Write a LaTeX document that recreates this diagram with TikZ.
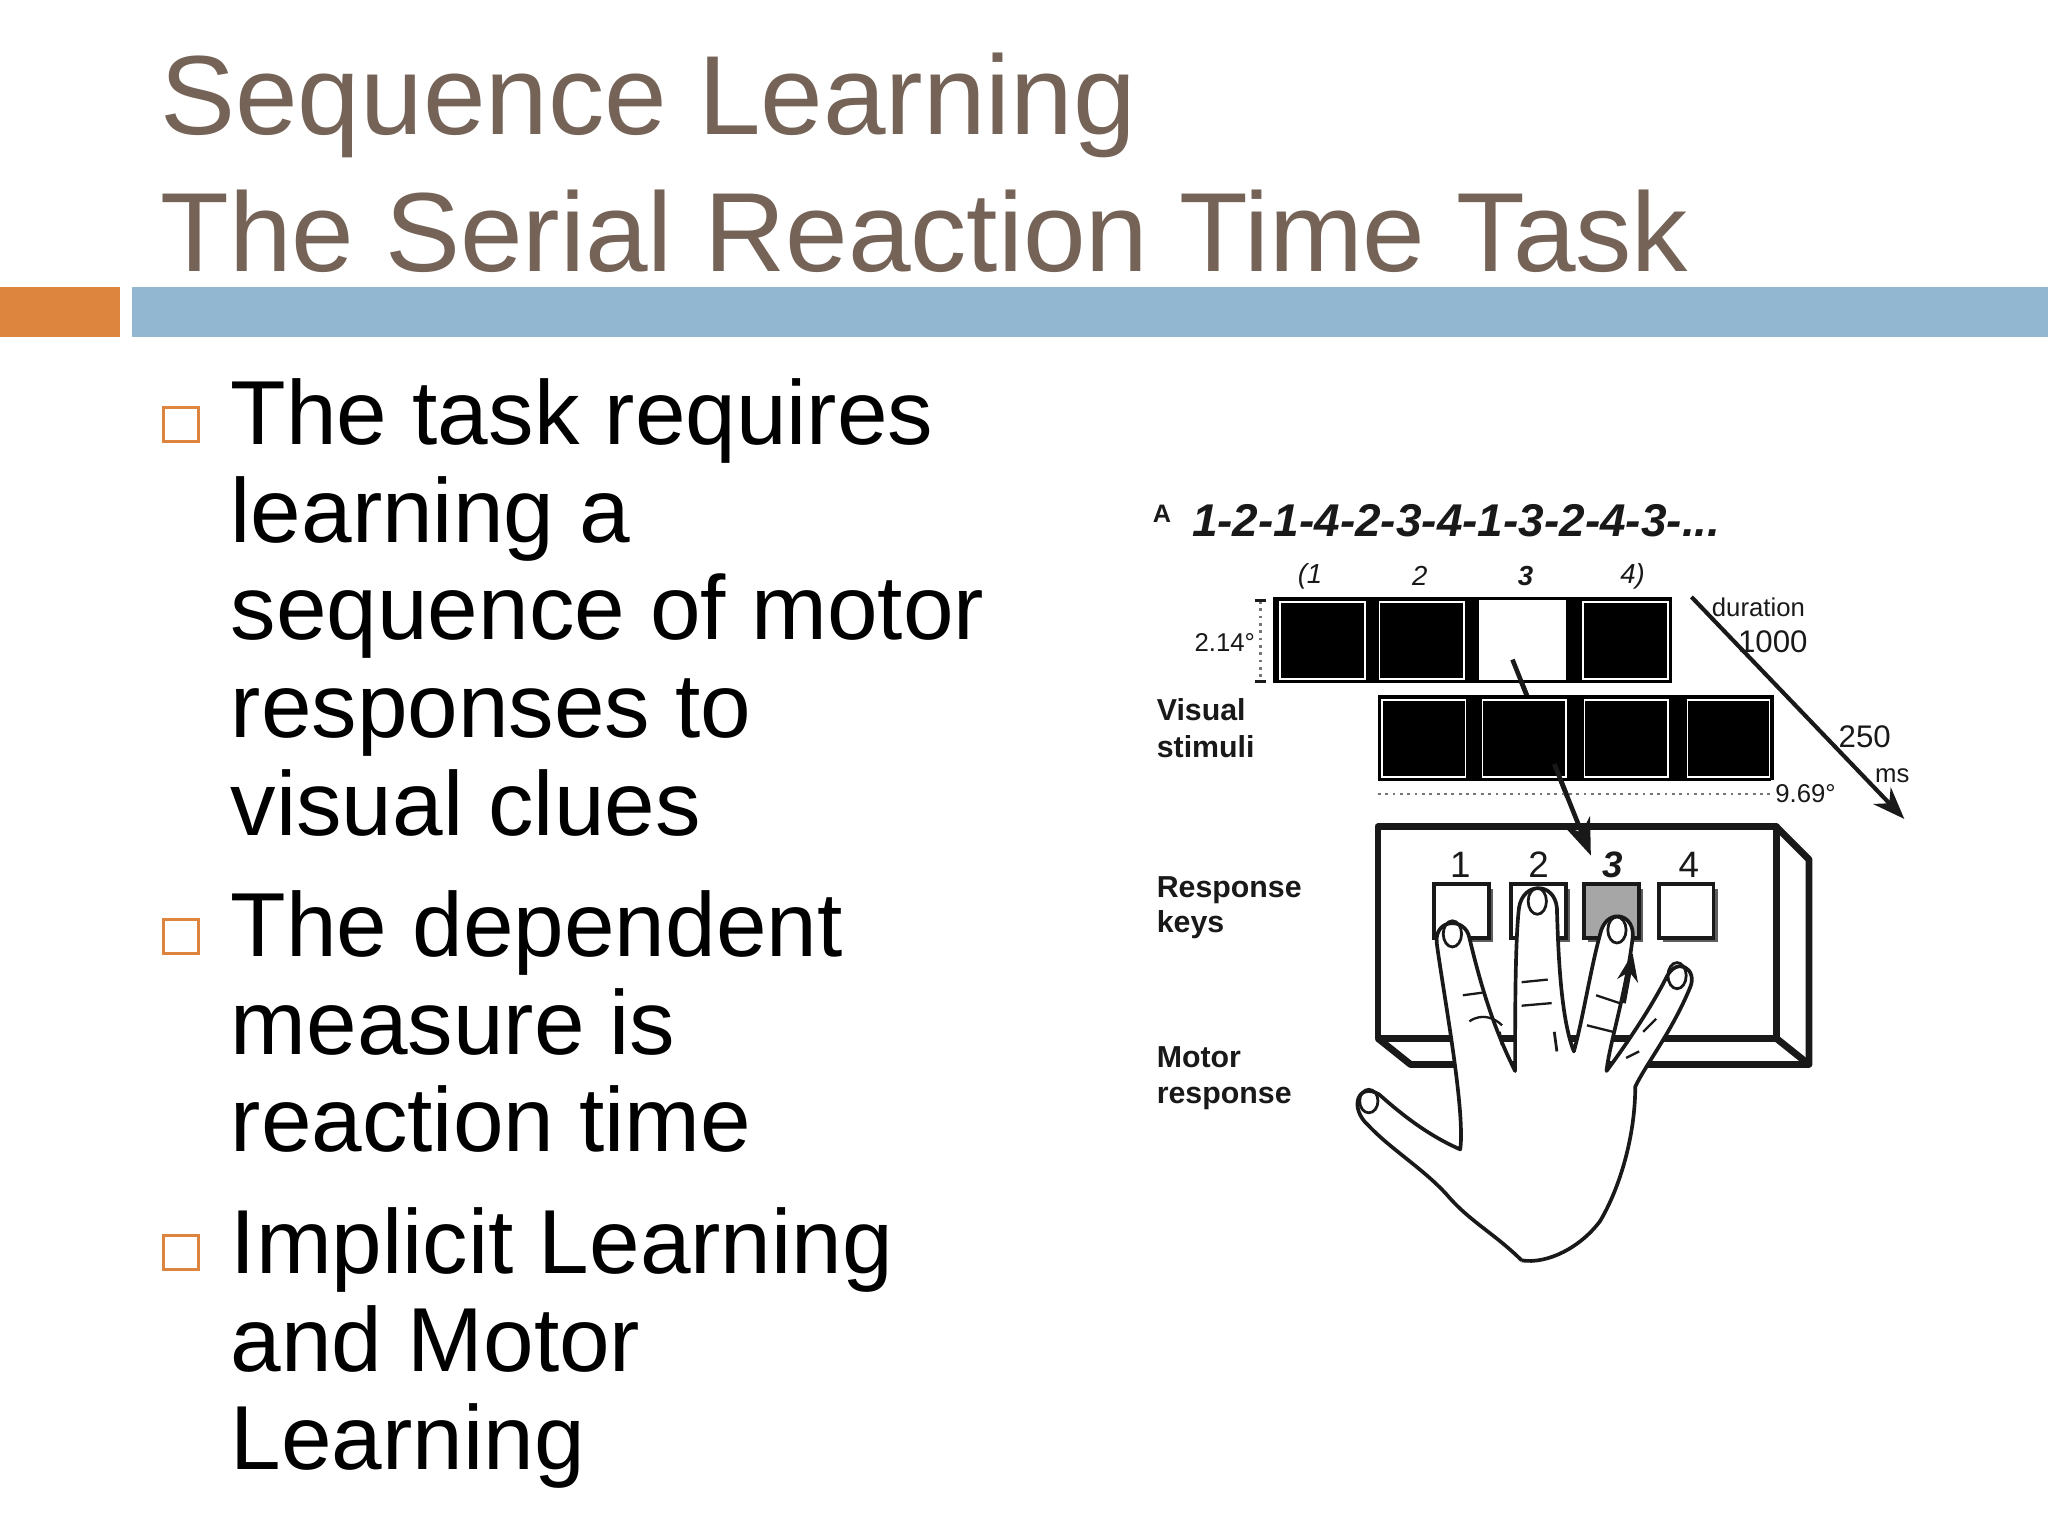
\documentclass[tikz,border=0pt]{standalone}
\usepackage{fontspec}
\setmainfont{Liberation Sans}
\usetikzlibrary{arrows.meta}
\definecolor{titlec}{RGB}{117,99,88}
\definecolor{orangec}{RGB}{221,132,62}
\definecolor{bluec}{RGB}{146,183,209}
\definecolor{figc}{RGB}{25,25,25}
\tikzset{
  titlet/.style={anchor=base west,inner sep=0,text=titlec,font=\fontsize{24.5pt}{24.5pt}\selectfont},
  bult/.style={anchor=base west,inner sep=0,font=\fontsize{19.8pt}{21.4pt}\selectfont,text=black},
  bulbox/.style={draw=orangec,line width=0.6pt},
  lab/.style={anchor=base west,inner sep=0,font=\fontsize{6.6pt}{8pt}\bfseries\selectfont,text=figc},
  small/.style={inner sep=0,font=\fontsize{5.6pt}{6pt}\selectfont,text=figc},
  cellb/.style={fill=black,draw=white,line width=0.3pt},
  keyb/.style={draw=figc,line width=0.8pt,fill=white},
}
\begin{document}
\begin{tikzpicture}[x=0.01cm,y=-0.01cm]
\useasboundingbox (0,0) rectangle (1568,1176);
\fill[white] (0,0) rectangle (1568,1176);
% title
\node[titlet] (t1) at (122,103) {Sequence Learning};
\node[titlet] (t2) at (122,208) {The Serial Reaction Time Task};
\fill[orangec] (0,220) rectangle (92,258);
\fill[bluec] (101,220) rectangle (1568,258);
% bullets
\draw[bulbox] (125,312) rectangle (152,338);
\draw[bulbox] (125,704) rectangle (152,730);
\draw[bulbox] (125,946) rectangle (152,972);
\node[bult] (b1a) at (176,340) {The task requires};
\node[bult] (b1b) at (176,415) {learning a};
\node[bult] (b1c) at (176,490) {sequence of motor};
\node[bult] (b1d) at (176,565) {responses to};
\node[bult] (b1e) at (176,640) {visual clues};
\node[bult] (b2a) at (176,732) {The dependent};
\node[bult] (b2b) at (176,807) {measure is};
\node[bult] (b2c) at (176,882) {reaction time};
\node[bult] (b3a) at (176,975) {Implicit Learning};
\node[bult] (b3b) at (176,1050) {and Motor};
\node[bult] (b3c) at (176,1125) {Learning};
% figure
\node[anchor=base west,inner sep=0,font=\fontsize{5.5pt}{6pt}\bfseries\selectfont,text=figc] (A) at (882,400) {A};
\node[anchor=base west,inner sep=0,font=\fontsize{10pt}{10pt}\bfseries\itshape\selectfont,text=figc] (seq) at (912,411) {1-2-1-4-2-3-4-1-3-2-4-3-...};
\foreach \x/\t in {1003/(1,1087/2,1250/4)} \node[small,font=\fontsize{6pt}{6pt}\itshape\selectfont] at (\x,441) {\t};
\node[small,font=\fontsize{6pt}{6pt}\bfseries\itshape\selectfont] (n3) at (1168,441) {3};
% direction arrow (behind)
\draw[figc,line width=1pt,-{Stealth[length=8pt]}] (1158,505) -- (1218,655);
% top row
\fill[black] (975,457) rectangle (1280,523);
\foreach \a/\b in {980/1045,1056/1121,1212/1277} \draw[cellb] (\a,461) rectangle (\b,520);
\fill[white] (1132,459) rectangle (1199,521);
\draw[figc,line width=1pt] (1158,505) -- (1180,560);
% bottom row
\fill[black] (1055,532) rectangle (1358,598);
\foreach \a/\b in {1058/1122,1135/1199,1213/1277,1292/1355} \draw[cellb] (\a,536) rectangle (\b,595);
\draw[figc,line width=1pt] (1190,585) -- (1200,610);
% dimensions
\draw[figc!60,densely dotted,line width=0.6pt] (965,460) -- (965,522);
\draw[figc,line width=0.6pt] (961,460) -- (969,460) (961,522) -- (969,522);
\node[small,anchor=east,fill=white,inner sep=1pt] (d1) at (965,492) {2.14°};
\draw[figc!60,densely dotted,line width=0.6pt] (1055,608) -- (1360,608);
\node[small,anchor=west,fill=white,inner sep=1pt] (d2) at (1355,608) {9.69°};
\draw[figc,line width=0.9pt,-{Stealth[length=7pt]}] (1295,457) -- (1458,627);
\node[small,anchor=west] (dur) at (1310,465) {duration};
\node[small,anchor=west,font=\fontsize{6.8pt}{7pt}\selectfont] (k1) at (1330,491) {1000};
\node[small,anchor=west,font=\fontsize{6.8pt}{7pt}\selectfont] (k2) at (1407,564) {250};
\node[small,anchor=west] (ms) at (1435,594) {ms};
% labels
\node[lab] (vs1) at (885,552) {Visual};
\node[lab] (vs2) at (885,580) {stimuli};
\node[lab] (rk1) at (885,687) {Response};
\node[lab] (rk2) at (885,714) {keys};
\node[lab] (mr1) at (885,817) {Motor};
\node[lab] (mr2) at (885,845) {response};
% box
\draw[figc,line width=1.5pt,line join=round] (1055,633) rectangle (1360,795);
\draw[figc,line width=1.5pt,line join=round] (1360,633) -- (1385,658) -- (1385,815) -- (1080,815) -- (1055,795);
\draw[figc,line width=1.5pt] (1360,795) -- (1385,815);
% keys
\foreach \x/\t in {1118/1,1178/2,1293/4} \node[small,font=\fontsize{8pt}{8pt}\selectfont] at (\x,662) {\t};
\node[small,font=\fontsize{8pt}{8pt}\bfseries\itshape\selectfont] (k3n) at (1235,662) {3};
\foreach \a in {1098,1157,1270} {\fill[figc!70] (\a+3,681) rectangle (\a+45,721); \draw[keyb] (\a,677) rectangle (\a+42,718);}
\fill[figc!70] (1216,681) rectangle (1258,721);
\draw[draw=figc,line width=0.8pt,fill=gray!70] (1213,677) rectangle (1255,718);
% hand
\draw[figc,line width=0.8pt,fill=white,line join=round]
 (1165,965) .. controls (1145,945) and (1125,935) .. (1108,915)
 .. controls (1090,895) and (1065,880) .. (1048,862)
 .. controls (1032,848) and (1040,828) .. (1056,838)
 .. controls (1075,855) and (1095,870) .. (1118,880)
 .. controls (1122,850) and (1105,760) .. (1100,722)
 .. controls (1098,703) and (1122,702) .. (1125,718)
 .. controls (1135,760) and (1145,790) .. (1160,820)
 .. controls (1160,780) and (1160,720) .. (1163,695)
 .. controls (1166,675) and (1190,675) .. (1192,695)
 .. controls (1193,730) and (1195,780) .. (1205,805)
 .. controls (1212,780) and (1218,740) .. (1226,712)
 .. controls (1232,695) and (1252,700) .. (1250,718)
 .. controls (1245,760) and (1232,800) .. (1230,820)
 .. controls (1245,800) and (1265,770) .. (1276,748)
 .. controls (1284,732) and (1300,742) .. (1294,756)
 .. controls (1280,790) and (1260,815) .. (1252,832)
 .. controls (1252,870) and (1240,910) .. (1225,935)
 .. controls (1210,955) and (1185,968) .. (1165,965);
% nails and joints
\foreach \cx/\cy in {1112/715,1177/690,1238/712,1284/747} \draw[figc,line width=0.6pt] (\cx,\cy) ellipse (7 and 10);
\draw[figc,line width=0.6pt] (1048,843) ellipse (7 and 9);
\draw[figc,line width=0.5pt] (1120,762) -- (1135,760) (1125,782) .. controls (1135,775) and (1145,780) .. (1150,785)
 (1165,752) -- (1185,750) (1165,770) -- (1188,768)
 (1222,762) -- (1240,768) (1215,785) -- (1235,790)
 (1258,790) -- (1268,780) (1245,810) -- (1255,805);
\draw[figc,line width=0.6pt] (1190,790) -- (1192,805) (1148,790) -- (1150,800);
\draw[figc,line width=1pt,-{Stealth[length=6pt]}] (1243,768) -- (1250,730);
\end{tikzpicture}
\end{document}
